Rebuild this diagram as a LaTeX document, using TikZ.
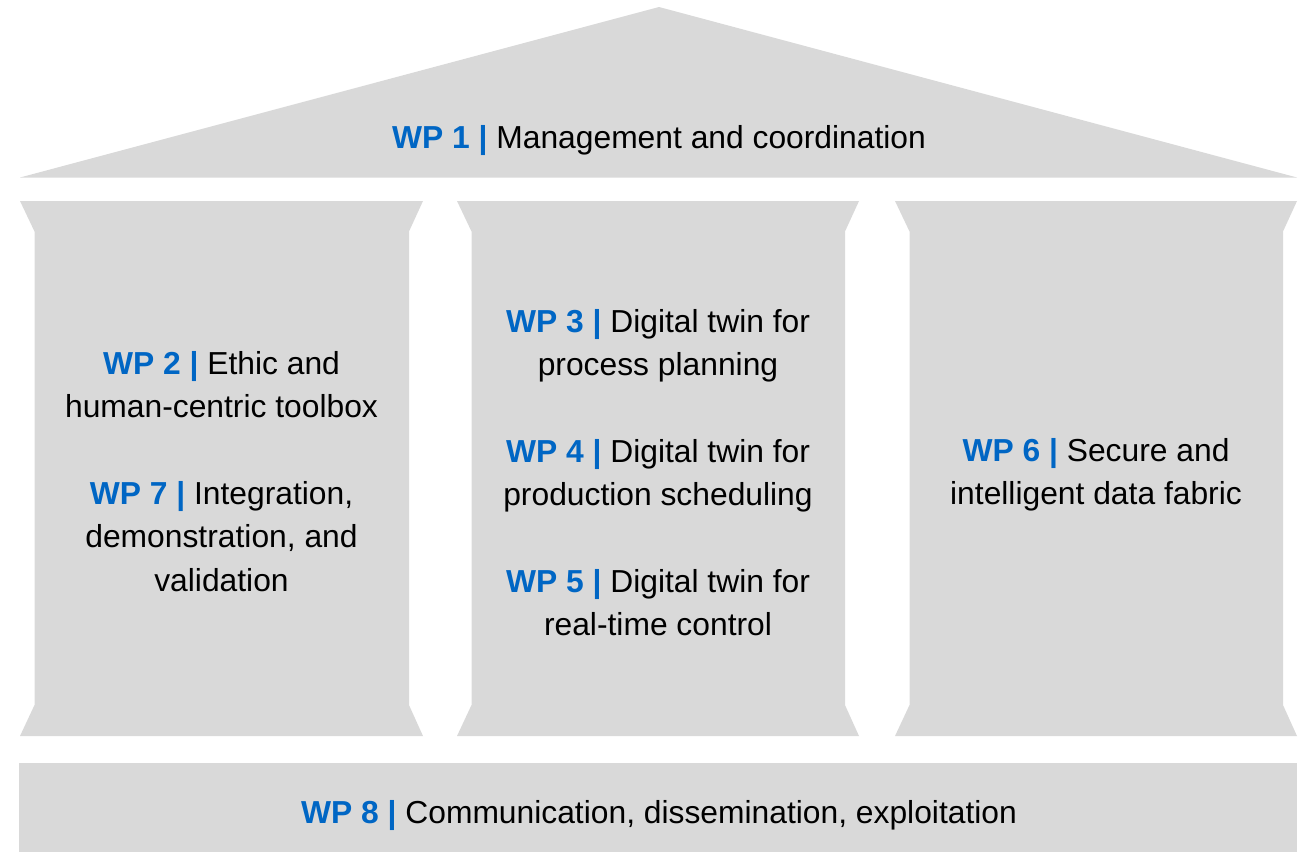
\documentclass[tikz,border=0pt]{standalone}
\usepackage{fontspec}
\setmainfont{Liberation Sans}
\definecolor{pgray}{HTML}{D9D9D9}
\definecolor{wpblue}{HTML}{0066C4}
\newcommand{\wplab}[1]{\textcolor{wpblue}{\textbf{WP #1 |}}}
\begin{document}
\begin{tikzpicture}[x=1pt,y=-1pt,
  shapefill/.style={fill=pgray},
  label/.style={align=center,font=\fontsize{31.8}{43.3}\selectfont,inner sep=0pt,text=black}]
\useasboundingbox (0,0) rectangle (1309,852);
% roof
\fill[shapefill] (20,177.5) -- (659,7) -- (1297,177.5) -- cycle;
% columns
\foreach \l/\r in {20/423, 457/859, 895/1297}{
  \fill[shapefill] (\l,201) -- (\r,201) -- (\r-14,231.5) -- (\r-14,705) -- (\r,736) -- (\l,736) -- (\l+14.5,705) -- (\l+14.5,231.5) -- cycle;
}
% base
\fill[shapefill] (19,763) rectangle (1297,852);
% texts
\node[label] (wp1) at (659,140.5) {\wplab{1} Management and coordination};
\node[label] (colA) at (221.5,471.5) {\wplab{2} Ethic and\\human-centric toolbox\\[43.3pt]\wplab{7} Integration,\\demonstration, and\\validation};
\node[label] (colB) at (658,472.5) {\wplab{3} Digital twin for\\process planning\\[43.3pt]\wplab{4} Digital twin for\\production scheduling\\[43.3pt]\wplab{5} Digital twin for\\real-time control};
\node[label] (colC) at (1096,474.5) {\wplab{6} Secure and\\intelligent data fabric};
\node[label] (wp8) at (659,815.5) {\wplab{8} Communication, dissemination, exploitation};
\end{tikzpicture}
\end{document}
